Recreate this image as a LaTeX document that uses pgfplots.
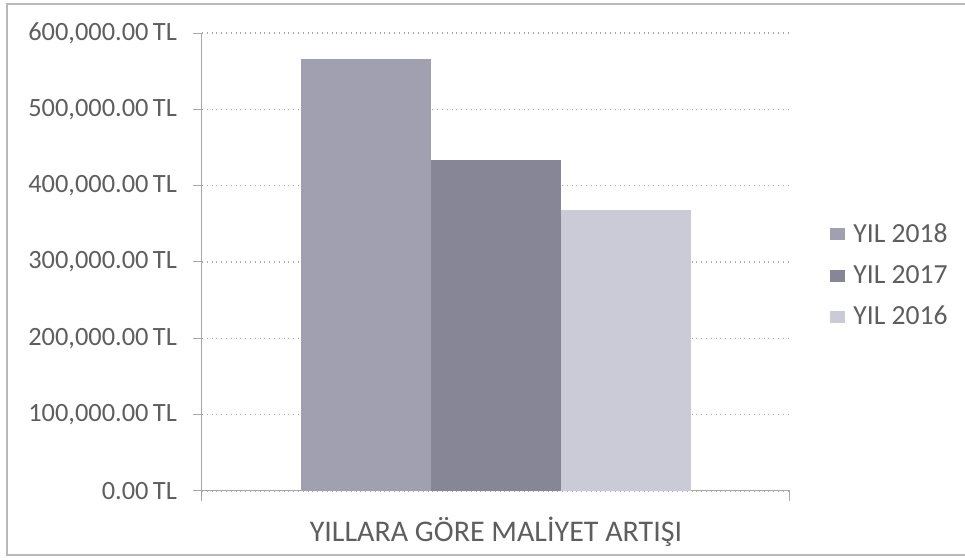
\documentclass[border=0pt]{standalone}
\usepackage{pgfplots}
\pgfplotsset{compat=1.18}
\usepackage{fontspec}
\setmainfont{Carlito}
\definecolor{txt}{HTML}{5E5E5E}
\definecolor{gridc}{HTML}{A8A8A8}
\definecolor{cA}{RGB}{160,160,176}
\definecolor{cB}{RGB}{134,134,150}
\definecolor{cC}{RGB}{203,203,215}
\begin{document}
\begin{tikzpicture}
\useasboundingbox (0,0) rectangle (482.5pt,280pt);
\draw[gray!55, line width=0.6pt] (490pt,278pt) -- (3.5pt,278pt) -- (3.5pt,2.5pt) -- (490pt,2.5pt);
\begin{axis}[
  at={(101pt,34.5pt)}, anchor=south west,
  scale only axis, width=294pt, height=229pt,
  xmin=-1, xmax=1, ymin=0, ymax=600000,
  ybar=0pt, bar width=65pt,
  axis x line*=bottom, axis y line*=left,
  axis line style={gridc, line width=0.5pt, -},
  ytick={0,100000,...,600000},
  scaled y ticks=false,
  /pgf/number format/assume math mode=true,
  yticklabel={\pgfmathprintnumber[fixed,fixed zerofill,precision=2,1000 sep={,}]{\tick}\,TL},
  yticklabel style={font=\fontsize{13.2}{15}\selectfont, text=txt, xshift=-4.5pt},
  ymajorgrids, grid style={gridc, dotted, line width=0.6pt},
  ytick style={gridc, line width=0.5pt},
  tick align=outside, major tick length=4.5pt,
  xtick={0}, xticklabels={YILLARA GÖRE MALİYET ARTIŞI},
  xticklabel style={font=\fontsize{15}{17}\selectfont, text=txt, yshift=-5pt},
  xtick style={draw=none},
  extra x ticks={-1,1}, extra x tick labels={},
  extra x tick style={xtick style={draw=gridc, line width=0.5pt}, major tick length=5pt},
  legend style={at={(1.068,0.47)}, anchor=west, draw=none, fill=none,
    font=\fontsize{13.8}{15}\selectfont, text=txt, row sep=8pt, column sep=3pt,
    inner sep=0pt, nodes={inner sep=1pt}},
  legend cell align=left,
  legend image code/.code={\fill[#1] (0pt,-3pt) rectangle (7.5pt,3pt);},
]
\addplot[fill=cA, draw=none] coordinates {(0,566000)};
\addplot[fill=cB, draw=none] coordinates {(0,433500)};
\addplot[fill=cC, draw=none] coordinates {(0,368000)};
\legend{YIL 2018, YIL 2017, YIL 2016}
\end{axis}
\end{tikzpicture}
\end{document}
